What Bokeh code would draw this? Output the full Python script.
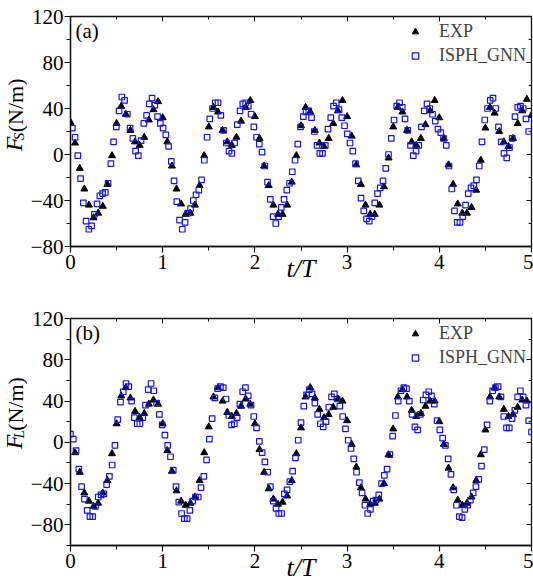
import numpy as np
from bokeh.plotting import figure
from bokeh.models import LinearAxis, FixedTicker, Range1d, Label
from bokeh.layouts import column, row
from bokeh.core.properties import value
from bokeh.embed import file_html
from bokeh.resources import INLINE

# ---------------- data ----------------
x_ticks = [0, 1, 2, 3, 4, 5]
x_minor = [0.5, 1.5, 2.5, 3.5, 4.5]
y_ticks = [-80, -40, 0, 40, 80, 120]

# panel (a): F_S, EXP sampled every 0.05 T from t/T = 0
exp_a_start, exp_step = 0.0, 0.05
exp_a = [28, 10, -12, -30, -44, -55, -51, -45, -26, -1, 27, 42, 35, 21, 11, 8, 15, 30, 39, 46,
         32, 11, -10, -30, -43, -52, -51, -44, -27, -1, 24, 41, 37, 21, 11, 8, 15, 29, 41, 47,
         33, 14, -10, -27, -44, -52, -52, -44, -24, -1, 25, 41, 37, 21, 10, 7, 14, 27, 38, 47,
         33, 16, -9, -26, -44, -52, -52, -44, -28, -3, 24, 41, 37, 21, 11, 8, 14, 26, 38, 47,
         32, 14, -9, -26, -43, -51, -51, -46, -31, -5, 23, 41, 36, 20, 11, 7, 14, 27, 38, 48,
         34]
# ISPH_GNN samples, evenly spaced from gnn_a_range[0] to gnn_a_range[1]
gnn_a_range = (0.02, 4.97)
gnn_a = [23, 15, -1, -21, -42, -58, -65, -62, -52, -43, -36, -34, -33, -25, -8, 11, 24, 38, 50, 47,
         35, 23, 14, 3, -1, 12, 27, 34, 44, 49, 43, 33, 27,
         23, 17, 7, -6, -23, -41, -57, -65, -59, -51, -47, -40, -35, -31, -22, -5, 15, 31, 40, 45,
         45, 34, 21, 10, 3, 1, 10, 26, 38, 44, 45, 42, 35,
         24, 15, 9, 2, -10, -24, -39, -54, -60, -54, -46, -39, -31, -25, -15, -5, 9, 24, 33, 37,
         38, 32, 20, 8, 1, 1, 8, 22, 32, 42, 45, 39, 32,
         25, 18, 10, 3, -8, -23, -38, -49, -56, -58, -54, -42, -34, -29, -23, -12, 0, 14, 30, 42,
         45, 41, 31, 21, 8, -1, 3, 8, 24, 38, 44, 40, 35,
         29, 22, 19, 14, 8, -10, -30, -49, -59, -59, -54, -44, -34, -29, -27, -22, -10, 11, 30, 40,
         47, 49, 40, 24, 11, 1, -3, 6, 14, 33, 41, 42, 40, 31, 20]

# panel (b): F_L
exp_b_start = 0.05
exp_b = [-10, -29, -49, -57, -62, -59, -49, -37, -11, 18, 45, 53, 43, 30, 24, 28, 37, 41, 37, 18,
         -8, -28, -47, -57, -61, -59, -53, -37, -10, 15, 44, 53, 40, 29, 25, 28, 35, 42, 37, 18,
         -7, -29, -45, -55, -60, -58, -52, -37, -11, 14, 44, 53, 43, 32, 24, 27, 34, 42, 40, 21,
         -2, -24, -44, -55, -60, -59, -55, -40, -12, 13, 44, 51, 44, 31, 25, 28, 35, 40, 40, 20,
         -2, -25, -44, -56, -61, -59, -53, -37, -12, 12, 44, 53, 44, 32, 25, 27, 34, 41, 40]
gnn_b_range = (0.0, 5.0)
gnn_b = [8, 3, -8, -26, -43, -55, -66, -72, -72, -62, -53, -51, -50, -41, -33, -22, -3, 22, 39, 49,
         57, 54, 40, 24, 18, 18, 24, 36, 51, 57, 50, 38, 27, 17,
         7, -3, -14, -27, -43, -58, -69, -74, -74, -66, -57, -53, -53, -44, -33, -17, 3, 23, 43, 52,
         54, 53, 42, 26, 17, 18, 24, 37, 49, 53, 45, 36, 25,
         14, 1, -10, -19, -29, -43, -57, -64, -69, -69, -50, -46, -38, -28, -15, 2, 19, 35, 46, 51,
         47, 38, 27, 18, 15, 20, 34, 44, 47, 42, 35, 25, 13,
         2, -6, -16, -29, -39, -49, -61, -69, -65, -57, -56, -51, -40, -32, -26, -12, 6, 26, 40, 50,
         53, 52, 40, 27, 15, 12, 27, 41, 46, 49, 45, 37, 21,
         12, 4, -3, -16, -31, -46, -61, -72, -73, -65, -61, -56, -49, -43, -36, -23, -7, 17, 40, 50,
         53, 54, 44, 25, 14, 14, 23, 31, 44, 50, 44, 36, 21, 10]

FONT = "Liberation Serif"
BLUE = "#1414f0"
STRIP_W = 27


def ylabel_strip(sub, height, f_y):
    """Narrow figure carrying the rotated y-axis title F_sub(N/m)."""
    s = figure(width=STRIP_W, height=height, x_range=Range1d(0, STRIP_W),
               y_range=Range1d(0, height), min_border=0, toolbar_location=None,
               output_backend="svg", x_axis_type=None, y_axis_type=None)
    s.grid.visible = False
    s.outline_line_color = None
    ang = np.pi / 2
    s.text(x=[13.5], y=[f_y], text=["F"], angle=ang, text_font=value(FONT),
           text_font_style="italic", text_font_size="24px", text_align="left",
           text_baseline="middle", text_color="black")
    s.text(x=[18.5], y=[f_y + 14], text=[sub], angle=ang, text_font=value(FONT),
           text_font_style="italic", text_font_size="15px", text_align="left",
           text_baseline="middle", text_color="black")
    s.text(x=[14.5], y=[f_y + 24], text=["(N/m)"], angle=ang, text_font=value(FONT),
           text_font_size="22px", text_align="left", text_baseline="middle",
           text_color="black")
    return s


def panel(tag, exp_start, exp_vals, gnn_range, gnn_vals, y_lo, y_minor,
          height, border_top, border_bottom, frame_h):
    p = figure(width=533 - STRIP_W, height=height, x_range=Range1d(0, 5),
               y_range=Range1d(y_lo, 120), output_backend="svg", toolbar_location=None,
               min_border_left=68 - STRIP_W, min_border_right=2,
               min_border_top=border_top, min_border_bottom=border_bottom)
    p.grid.visible = False
    p.outline_line_color = "#111111"
    p.outline_line_width = 1.3

    xt = FixedTicker(ticks=x_ticks, minor_ticks=x_minor)
    yt = FixedTicker(ticks=y_ticks, minor_ticks=y_minor)
    p.xaxis.ticker = xt
    p.yaxis.ticker = yt
    for ax in (p.xaxis[0], p.yaxis[0]):
        ax.axis_line_color = "#111111"
        ax.axis_line_width = 1.3
        ax.major_tick_line_color = "#111111"
        ax.minor_tick_line_color = "#111111"
        ax.major_tick_line_width = 1.2
        ax.major_tick_out = 6
        ax.major_tick_in = 0
        ax.minor_tick_out = 4
        ax.minor_tick_in = 0
        ax.major_label_text_font = FONT
        ax.major_label_text_font_size = "21px"
        ax.major_label_text_color = "black"
    p.xaxis[0].major_label_standoff = 2
    p.yaxis[0].major_label_standoff = 1
    xa = p.xaxis[0]
    xa.axis_label = "t/T"
    xa.axis_label_text_font = FONT
    xa.axis_label_text_font_style = "italic"
    xa.axis_label_text_font_size = "26px"
    xa.axis_label_text_color = "black"
    xa.axis_label_standoff = -18

    for loc, tk, ticks in (("right", yt, y_ticks), ("above", xt, x_ticks)):
        ax = LinearAxis(ticker=tk)
        ax.axis_line_color = "#111111"
        ax.major_tick_line_color = "#111111"
        ax.minor_tick_line_color = "#111111"
        ax.major_tick_in = 5
        ax.major_tick_out = 0
        ax.minor_tick_in = 3
        ax.minor_tick_out = 0
        ax.major_label_overrides = {t: "" for t in ticks}
        ax.major_label_standoff = 0
        p.add_layout(ax, loc)

    et = [exp_start + exp_step * i for i in range(len(exp_vals))]
    gt = np.linspace(gnn_range[0], gnn_range[1], len(gnn_vals))
    p.scatter(et, exp_vals, marker="triangle", size=7, fill_color="black",
              line_color="black", line_width=1, legend_label="EXP")
    p.scatter(gt, gnn_vals, marker="square", size=5.5, fill_color=None,
              line_color=BLUE, line_width=1.2, legend_label="ISPH_GNN")

    lg = p.legend[0]
    lg.location = "top_right"
    lg.margin = 5
    lg.padding = 2
    lg.border_line_color = None
    lg.background_fill_alpha = 0
    lg.label_text_font = FONT
    lg.label_text_font_size = "18px"
    lg.glyph_width = 16
    lg.glyph_height = 21
    lg.label_height = 21
    lg.label_standoff = 16
    lg.spacing = 3

    p.add_layout(Label(x=5, y=frame_h - 2, x_units="screen", y_units="screen", text=tag,
                       text_font=FONT, text_font_size="21px", text_baseline="top",
                       text_color="black"))
    return p


pa = panel("(a)", exp_a_start, exp_a, gnn_a_range, gnn_a, -80, [-60, -20, 20, 60, 100],
           290, 16, 44, 230)
pb = panel("(b)", exp_b_start, exp_b, gnn_b_range, gnn_b, -100, [-100, -60, -20, 20, 60, 100],
           295, 28, 40, 227)
sa = ylabel_strip("S", 290, 120)
sb = ylabel_strip("L", 295, 125)

layout = column(row(sa, pa, spacing=0), row(sb, pb, spacing=0), spacing=0)
open("out.html", "w").write(file_html(layout, INLINE))
